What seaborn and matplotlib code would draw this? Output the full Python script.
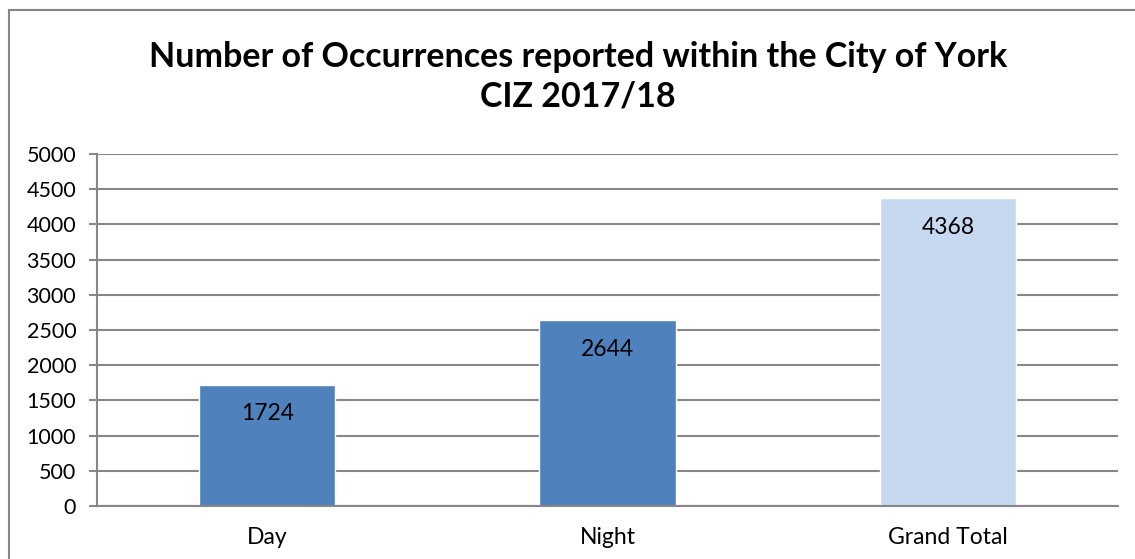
import matplotlib
matplotlib.use("Agg")
import matplotlib.pyplot as plt
import seaborn as sns
import numpy as np
import pandas as pd
from matplotlib.patches import Rectangle

# data
categories = ["Day", "Night", "Grand Total"]
values = [1724, 2644, 4368]
bar_colors = ["#4F81BD", "#4F81BD", "#C6D9F1"]
title = "Number of Occurrences reported within the City of York\nCIZ 2017/18"

sns.set_style("white")
plt.rcParams['font.family'] = ['Lato', 'DejaVu Sans']

W, H = 1135, 559
fig = plt.figure(figsize=(W / 100, H / 100), dpi=100)
ax = fig.add_axes([97 / W, (H - 506) / H, (1118 - 97) / W, (506 - 154) / H])

df = pd.DataFrame({"cat": categories, "val": values})
sns.barplot(data=df, x="cat", y="val", hue="cat", palette=bar_colors,
            width=0.4, ax=ax, legend=False, saturation=1, zorder=3)

grid_c = "#878787"
ax.set_ylim(0, 5000)
ax.set_xlim(-0.5, 2.5)
ax.set_yticks(np.arange(0, 5001, 500))
ax.yaxis.grid(True, color=grid_c, linewidth=1.5, zorder=0)
ax.set_axisbelow(True)
for s in ["top", "right"]:
    ax.spines[s].set_visible(False)
for s in ["left", "bottom"]:
    ax.spines[s].set_color(grid_c)
    ax.spines[s].set_linewidth(1.5)
ax.spines["bottom"].set_zorder(4)

# category labels centered, tick marks at boundaries
ax.set_xticks([0, 1, 2])
ax.set_xticklabels(categories)
ax.tick_params(axis="x", length=0, pad=15, labelsize=16.5, labelcolor="black")
ax.set_xticks([-0.5, 0.5, 1.5, 2.5], minor=True)
ax.tick_params(axis="x", which="minor", length=6, width=1.5, color=grid_c, direction="out")
ax.tick_params(axis="y", length=6, width=1.5, color=grid_c, pad=9, labelsize=15.5,
               left=True, labelcolor="black")
ax.set_xlabel("")
ax.set_ylabel("")

for i, v in enumerate(values):
    ax.annotate(str(v), (i, v), xytext=(0, -21), textcoords="offset points",
                ha="center", va="center", fontsize=16.5, color="black")

fig.text(578 / W, 1 - 77 / H, title, ha="center", va="center", color="black",
         fontsize=24.5, fontweight="bold", linespacing=1.3)

# outer chart frame (left and top visible)
fig.add_artist(Rectangle((8.5 / W, -0.05), 1.2, 1 - 9.5 / H + 0.05,
                         transform=fig.transFigure, fill=False,
                         edgecolor="#868686", linewidth=1.5))

fig.savefig("out.png", dpi=100)
